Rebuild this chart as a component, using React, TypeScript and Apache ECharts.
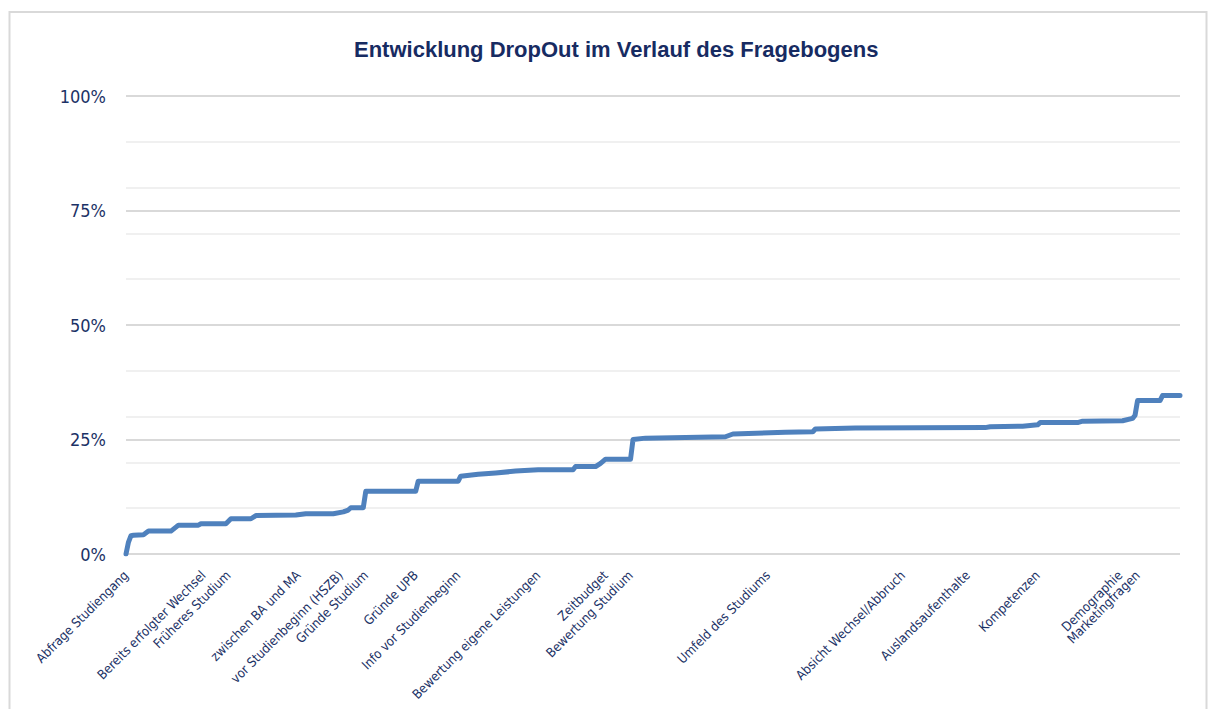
import React, { useEffect, useRef } from "react";
import * as echarts from "echarts";

// Questionnaire items (question number along the x axis)
const QUESTION_COUNT = 423;
const questions: string[] = Array.from({ length: QUESTION_COUNT }, (_, i) => String(i + 1));

// Section labels and the question index where each section starts
const sectionNames = [
  "Abfrage Studiengang",
  "Bereits erfolgter Wechsel",
  "Früheres Studium",
  "zwischen BA und MA",
  "vor Studienbeginn (HSZB)",
  "Gründe Studium",
  "Gründe UPB",
  "Info vor Studienbeginn",
  "Bewertung eigene Leistungen",
  "Zeitbudget",
  "Bewertung Studium",
  "Umfeld des Studiums",
  "Absicht Wechsel/Abbruch",
  "Auslandsaufenthalte",
  "Kompetenzen",
  "Demographie",
  "Marketingfragen",
];
const sectionIndex = [0, 31, 41, 69, 86, 96, 116, 133, 165, 192, 202, 257, 311, 337, 365, 398, 405];

// Cumulative drop-out (%) at selected questions (index, value)
const dropIndex = [
  0, 1, 2, 3, 7, 9, 18, 21, 29, 30, 40, 42, 50, 52, 68, 72, 83, 87, 89, 90, 95, 96,
  116, 117, 133, 134, 141, 148, 156, 165, 179, 180, 188, 190, 192, 202, 203, 208, 240,
  243, 264, 275, 276, 292, 344, 346, 359, 365, 366, 381, 383, 399, 403, 404, 405, 414,
  415, 422,
];
const dropPct = [
  0, 2.6, 4.0, 4.1, 4.2, 5.0, 5.0, 6.3, 6.3, 6.6, 6.6, 7.7, 7.7, 8.4, 8.5, 8.8, 8.8, 9.2,
  9.6, 10.1, 10.1, 13.7, 13.7, 15.9, 15.9, 17.0, 17.4, 17.7, 18.1, 18.4, 18.4, 19.1, 19.1,
  19.8, 20.7, 20.7, 25.0, 25.3, 25.6, 26.2, 26.6, 26.7, 27.3, 27.5, 27.6, 27.8, 27.9, 28.2,
  28.7, 28.7, 29.0, 29.1, 29.6, 30.3, 33.5, 33.5, 34.6, 34.6,
];

const majorTicks = [0, 25, 50, 75, 100];

const NAVY = "#1c3266";
const FONT = "'Liberation Sans Narrow', 'DejaVu Sans Condensed', 'Liberation Sans', Arial, sans-serif";

export default function App() {
  const ref = useRef<HTMLDivElement>(null);

  useEffect(() => {
    if (!ref.current) return;
    const chart = echarts.init(ref.current, undefined, { renderer: "svg" });
    const labelMap: Record<number, string> = {};
    sectionIndex.forEach((idx, k) => {
      labelMap[idx] = sectionNames[k];
    });
    const seriesData = dropIndex.map((q, k) => [q, dropPct[k]]);

    chart.setOption({
      animation: false,
      backgroundColor: "#ffffff",
      title: {
        text: "Entwicklung DropOut im Verlauf des Fragebogens",
        left: 349,
        top: 33,
        textStyle: {
          fontFamily: "'Liberation Sans', Arial, sans-serif",
          fontWeight: "bold",
          fontSize: 22,
          color: "#172b62",
        },
      },
      graphic: [
        {
          type: "rect",
          shape: { x: 9.5, y: 12, width: 1197, height: 720 },
          style: { fill: "none", stroke: "#d9d9d9", lineWidth: 2 },
          silent: true,
          z: -1,
        },
      ],
      grid: { left: 126, right: 29, top: 96, bottom: 155, outerBoundsMode: "none", containLabel: false },
      xAxis: {
        type: "category",
        data: questions,
        boundaryGap: false,
        axisLine: { show: false },
        axisTick: { show: false },
        splitLine: { show: false },
        axisLabel: {
          interval: 0,
          rotate: 45,
          margin: 19,
          fontSize: 13,
          fontFamily: FONT,
          color: NAVY,
          formatter: (_v: string, idx: number) => labelMap[idx] ?? "",
        },
      },
      yAxis: [
        {
          type: "value",
          min: 0,
          max: 100,
          interval: 25,
          z: 2,
          axisLine: { show: false },
          axisTick: { show: false },
          axisLabel: {
            margin: 20,
            fontSize: 18,
            fontFamily: FONT,
            color: NAVY,
            formatter: (v: number) => (majorTicks.includes(v) ? `${v}%` : ""),
          },
          splitLine: { lineStyle: { color: "#d9d9d9", width: 2 } },
        },
        {
          type: "value",
          min: 0,
          max: 100,
          interval: 10,
          z: 1,
          axisLine: { show: false },
          axisTick: { show: false },
          axisLabel: { show: false },
          splitLine: { lineStyle: { color: "#f0f0f0", width: 2 } },
        },
      ],
      series: [
        {
          type: "line",
          yAxisIndex: 0,
          data: seriesData,
          showSymbol: false,
          z: 5,
          lineStyle: { color: "#4f81bd", width: 5, cap: "round", join: "round" },
        },
      ],
    });
    return () => chart.dispose();
  }, []);

  return (
    <div
      ref={ref}
      style={{ position: "fixed", left: 0, top: 0, width: 1209, height: 709 }}
    />
  );
}
